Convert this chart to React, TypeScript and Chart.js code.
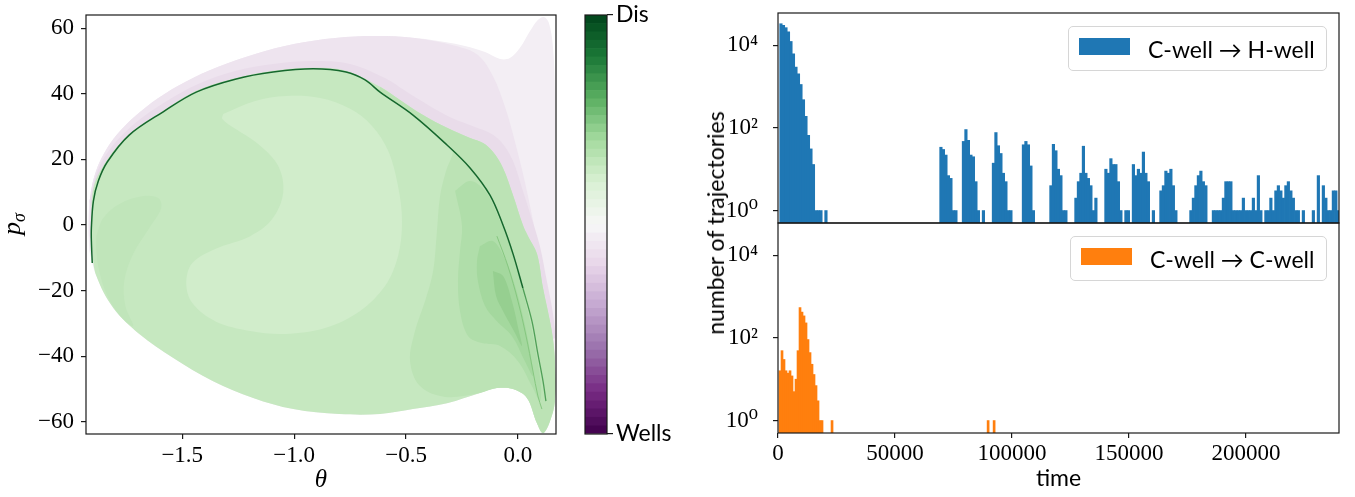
import React, { useEffect, useRef } from 'react';
import { Chart, registerables } from 'chart.js';

Chart.register(...registerables);

type Pt = [number, number];

const SERIF = '"Liberation Serif", "DejaVu Serif", serif';
const SANS = 'Lato, "Liberation Sans", sans-serif';

// ---------------- Left panel: (theta, p_sigma) plane ----------------
const thetaTicks = [-1.5, -1.0, -0.5, 0.0];
const pSigmaTicks = [-60, -40, -20, 0, 20, 40, 60];
const thetaRange: Pt = [-1.93, 0.17];
const pSigmaRange: Pt = [-63.7, 64];

const lavenderOuter: Pt[] = [
  [-1.915, -7.9], [-1.92, 0], [-1.911, 8.8], [-1.888, 15.9], [-1.848, 22.0], [-1.79, 27.7], [-1.71, 33.2],
  [-1.607, 38.7], [-1.487, 43.6], [-1.339, 48.2], [-1.174, 52.1], [-0.996, 55.2], [-0.817, 57.0], [-0.638, 57.6],
  [-0.46, 57.0], [-0.281, 55.2], [-0.147, 52.7], [-0.08, 50.6], [-0.036, 50.9], [0.009, 54.0], [0.054, 59.1],
  [0.089, 62.5], [0.116, 63.4], [0.138, 61.6], [0.156, 54.6], [0.165, 40.9], [0.165, 7.3], [0.165, -23.2],
  [0.165, -41.5], [0.143, -59.8], [0.112, -63.4], [0.085, -60.4], [0.04, -52.7], [-0.022, -50.0], [-0.094, -49.7],
  [-0.17, -51.2], [-0.317, -54.3], [-0.469, -56.1], [-0.616, -57.6], [-0.799, -57.6], [-1.004, -56.1],
  [-1.183, -52.7], [-1.362, -47.6], [-1.54, -40.5], [-1.692, -33.2], [-1.808, -25.3], [-1.884, -15.5],
];
const lavenderMid: Pt[] = [
  [-1.915, -3.4], [-1.911, 8.8], [-1.888, 15.9], [-1.848, 22.0], [-1.79, 27.7], [-1.71, 33.2], [-1.607, 38.7],
  [-1.487, 43.6], [-1.339, 48.2], [-1.174, 52.1], [-0.996, 55.2], [-0.817, 57.0], [-0.638, 57.6], [-0.46, 57.0],
  [-0.281, 54.6], [-0.179, 51.8], [-0.112, 45.4], [-0.058, 36.0], [-0.013, 25.3], [0.031, 13.1], [0.076, -1.8],
  [0.112, -17.1], [0.143, -29.3], [0.156, -36.9], [0.009, -32.3], [-0.973, -7.9], [-1.866, -7.9],
];
const lavenderEdge: Pt[] = [
  [-1.915, 7.3], [-1.875, 17.1], [-1.8125, 24.1], [-1.71, 31.1], [-1.576, 37.5], [-1.429, 43.0], [-1.259, 47.0],
  [-1.094, 49.1], [-0.915, 50.0], [-0.75, 49.1], [-0.594, 44.8], [-0.504, 40.9], [-0.402, 36.6], [-0.295, 32.6],
  [-0.192, 29.9], [-0.125, 28.0], [-0.071, 25.0], [-0.022, 19.5], [0.018, 11.3], [0.058, 2.7], [0.098, -6.4],
  [0.129, -17.1], [0.156, -26.8], [0.165, -34.5], [0.009, -32.3], [-0.973, -7.9], [-1.866, -7.9],
];
const greenBasin: Pt[] = [
  [-1.906, -0.9], [-1.897, 11.3], [-1.839, 19.5], [-1.737, 27.7], [-1.585, 34.8], [-1.4375, 40.9], [-1.259, 44.8],
  [-1.094, 47.0], [-0.915, 47.9], [-0.768, 47.0], [-0.616, 42.1], [-0.527, 38.1], [-0.424, 33.5], [-0.317, 29.6],
  [-0.214, 26.5], [-0.156, 25.0], [-0.112, 22.3], [-0.067, 17.4], [-0.022, 9.1], [0.022, 0], [0.045, -3.4],
  [0.085, -8.8], [0.112, -19.2], [0.143, -29.3], [0.156, -34.5], [0.165, -41.5], [0.165, -53.7], [0.143, -59.8],
  [0.112, -63.4], [0.085, -60.4], [0.04, -52.7], [-0.022, -50.0], [-0.094, -49.7], [-0.17, -51.2], [-0.317, -54.3],
  [-0.469, -56.1], [-0.616, -57.6], [-0.799, -57.6], [-1.004, -56.1], [-1.183, -52.7], [-1.362, -47.6],
  [-1.54, -40.5], [-1.692, -33.2], [-1.808, -25.3], [-1.884, -15.5], [-1.902, -7.9],
];
const greenCore: Pt[] = [
  [-1.317, 33.8], [-1.174, 37.8], [-1.036, 39.3], [-0.884, 38.7], [-0.75, 35.4], [-0.652, 30.2], [-0.58, 22.6],
  [-0.536, 11.9], [-0.518, 1.2], [-0.536, -9.5], [-0.594, -18.6], [-0.705, -26.2], [-0.862, -31.4], [-1.04, -33.2],
  [-1.196, -32.3], [-1.353, -29.3], [-1.455, -23.8], [-1.482, -17.7], [-1.455, -11.6], [-1.353, -7.3],
  [-1.196, -3.4], [-1.098, 1.8], [-1.049, 9.8], [-1.071, 18.0], [-1.161, 24.7], [-1.263, 29.3], [-1.321, 32.3],
];
const greenLeftLobe: Pt[] = [
  [-1.884, -3.4], [-1.853, 2.1], [-1.781, 6.4], [-1.674, 8.8], [-1.607, 8.2], [-1.594, 5.2], [-1.647, -0.9],
  [-1.719, -8.8], [-1.759, -17.1], [-1.754, -24.7], [-1.719, -30.8], [-1.777, -27.7], [-1.835, -21.6],
  [-1.871, -14.0], [-1.884, -7.9],
];
const greenRightBand: Pt[] = [
  [-0.616, 42.1], [-0.527, 38.1], [-0.424, 33.5], [-0.317, 29.6], [-0.214, 26.5], [-0.156, 25.0], [-0.112, 22.3],
  [-0.067, 17.4], [-0.022, 9.1], [0.022, 0], [0.045, -3.4], [0.085, -8.8], [0.112, -19.2], [0.143, -29.3],
  [0.156, -34.5], [0.165, -41.5], [0.165, -53.7], [0.143, -59.8], [0.112, -63.4], [0.085, -60.4], [0.04, -52.7],
  [-0.022, -50.0], [-0.094, -49.7], [-0.17, -51.2], [-0.326, -52.4], [-0.4375, -49.1], [-0.482, -41.5],
  [-0.46, -32.3], [-0.415, -23.2], [-0.379, -14.0], [-0.362, -1.8], [-0.348, 8.8], [-0.321, 16.5], [-0.29, 22.6],
  [-0.317, 24.4], [-0.469, 33.5], [-0.616, 40.5],
];
const greenFold: Pt[] = [
  [-0.281, 10.4], [-0.214, 13.4], [-0.147, 10.4], [-0.089, 2.7], [-0.036, -6.4], [0.009, -17.1], [0.049, -27.7],
  [0.08, -38.4], [0.103, -49.1], [0.098, -53.7], [0.0625, -49.1], [0.0, -41.5], [-0.08, -36.9], [-0.161, -36.0],
  [-0.223, -33.8], [-0.259, -26.2], [-0.268, -17.1], [-0.259, -7.9], [-0.25, -0.3],
];
const greenFoldInner: Pt[] = [
  [-0.17, -6.4], [-0.112, -4.9], [-0.058, -10.4], [-0.013, -18.6], [0.022, -27.7], [0.054, -38.4], [0.067, -46.0],
  [0.031, -41.5], [-0.027, -33.8], [-0.094, -29.3], [-0.147, -24.7], [-0.179, -17.1], [-0.183, -11.0],
];
const greenFoldCore: Pt[] = [
  [-0.112, -14.0], [-0.067, -15.5], [-0.027, -23.2], [0.004, -32.3], [0.018, -36.9], [-0.018, -32.3],
  [-0.067, -26.2], [-0.098, -21.6],
];
const ridgeUpper: Pt[] = [
  [-1.902, -11.6], [-1.906, -4.9], [-1.906, -0.9], [-1.897, 7.3], [-1.875, 13.4], [-1.835, 19.2], [-1.737, 27.4],
  [-1.585, 34.5], [-1.4375, 40.5], [-1.259, 44.5], [-1.094, 46.6], [-0.915, 47.6], [-0.768, 46.6], [-0.683, 44.2],
  [-0.616, 40.5], [-0.469, 33.5], [-0.317, 24.4], [-0.214, 17.4], [-0.125, 9.1], [-0.067, 0], [-0.022, -8.8],
  [0.022, -19.2],
];
const ridgeLower: Pt[] = [[0.022, -19.2], [0.0625, -29.3], [0.089, -39.3], [0.112, -47.6], [0.125, -53.7]];
const ridgeInner: Pt[] = [
  [-0.094, -3.4], [-0.045, -12.5], [0.0, -23.2], [0.036, -33.8], [0.067, -44.5], [0.089, -52.1], [0.107, -56.1],
];

const regionLayers: { pts: Pt[]; color: string }[] = [
  { pts: lavenderOuter, color: '#f3eef4' },
  { pts: lavenderMid, color: '#eee4ef' },
  { pts: lavenderEdge, color: '#e9dcea' },
  { pts: greenBasin, color: '#c6e8c0' },
  { pts: greenCore, color: '#d1edcb' },
  { pts: greenLeftLobe, color: '#c0e5ba' },
  { pts: greenRightBand, color: '#bce3b5' },
  { pts: greenFold, color: '#b0deaa' },
  { pts: greenFoldInner, color: '#a4d89e' },
  { pts: greenFoldCore, color: '#96cf90' },
];
const ridgeLayers: { pts: Pt[]; color: string; width: number }[] = [
  { pts: ridgeUpper, color: '#15672d', width: 1.5 },
  { pts: ridgeLower, color: '#4f9f57', width: 1.3 },
  { pts: ridgeInner, color: '#86c780', width: 1 },
];

// ---------------- Colorbar ----------------
const prgnAnchors = ['#40004b', '#762a83', '#9970ab', '#c2a5cf', '#e7d4e8', '#f7f7f7', '#d9f0d3', '#a6dba0', '#5aae61', '#1b7837', '#00441b'];
const colorbarBandCount = 50;
const colorbarTickLabels = ['Wells', 'Dis'];

// ---------------- Right panels: histograms ----------------
const timeTicks = [0, 50000, 100000, 150000, 200000];
const timeRange: Pt = [0, 239700];
const countTicks = [1, 100, 10000];
const countRange: Pt = [0.5, 60000];

const hBinStart = 730;
const hBinWidth = 1068;
const cToHCounts = [
  33000, 30000, 26500, 21000, 12300, 6200, 2950, 2040, 1120, 480, 190, 66, 31, 13, 1, 1, 1, 0, 1, 0,
  0, 0, 0, 0, 0, 0, 0, 0, 0, 0, 0, 0, 0, 0, 0, 0, 0, 0, 0, 0,
  0, 0, 0, 0, 0, 0, 0, 0, 0, 0, 0, 0, 0, 0, 0, 0, 0, 0, 0, 0,
  0, 0, 0, 0, 34, 30, 22, 7, 6, 1, 1, 0, 0, 47, 91, 50, 22, 20, 5, 1,
  0, 1, 0, 0, 0, 14, 77, 37, 24, 8, 5, 1, 1, 0, 0, 0, 0, 39, 47, 39,
  12, 1, 0, 0, 0, 0, 0, 0, 4, 40, 28, 10, 7, 1, 1, 0, 0, 0, 2, 5,
  8, 36, 8, 6, 4, 1, 2, 0, 0, 0, 10, 8, 18, 13, 13, 5, 1, 0, 1, 1,
  0, 13, 7, 10, 8, 26, 8, 5, 0, 1, 0, 0, 3, 4, 9, 8, 10, 4, 1, 0,
  0, 0, 0, 0, 1, 2, 4, 7, 9, 5, 4, 0, 0, 1, 1, 1, 1, 2, 5, 5,
  5, 1, 1, 1, 1, 2, 1, 1, 1, 2, 1, 7, 1, 0, 1, 1, 2, 1, 3, 4,
  3, 2, 4, 5, 3, 2, 1, 1, 0, 1, 0, 0, 0, 1, 0, 7, 0, 4, 2, 1,
  1, 3, 3, 1,
];

const cBinStart = 430;
const cBinWidth = 855;
const cToCCounts = [
  16, 49, 30, 16, 14, 16, 12, 5, 10, 49, 540, 420, 340, 230, 91, 44, 23, 13, 7, 3,
  1, 1, 0, 0, 0, 0, 1, 0, 0, 0, 0, 0, 0, 0, 0, 0, 0, 0, 0, 0,
  0, 0, 0, 0, 0, 0, 0, 0, 0, 0, 0, 0, 0, 0, 0, 0, 0, 0, 0, 0,
  0, 0, 0, 0, 0, 0, 0, 0, 0, 0, 0, 0, 0, 0, 0, 0, 0, 0, 0, 0,
  0, 0, 0, 0, 0, 0, 0, 0, 0, 0, 0, 0, 0, 0, 0, 0, 0, 0, 0, 0,
  0, 0, 0, 0, 1, 0, 0, 1,
];

const seriesCH = { label: 'C-well \u2192 H-well', color: '#1f77b4' };
const seriesCC = { label: 'C-well \u2192 C-well', color: '#ff7f0e' };

// ---------------- helpers ----------------
function hexToRgb(h: string) {
  const n = parseInt(h.slice(1), 16);
  return [(n >> 16) & 255, (n >> 8) & 255, n & 255];
}
function prgn(t: number) {
  const s = Math.max(0, Math.min(1, t)) * (prgnAnchors.length - 1);
  const i = Math.min(prgnAnchors.length - 2, Math.floor(s));
  const f = s - i;
  const a = hexToRgb(prgnAnchors[i]);
  const b = hexToRgb(prgnAnchors[i + 1]);
  const c = a.map((v, k) => Math.round(v + (b[k] - v) * f));
  return `rgb(${c[0]},${c[1]},${c[2]})`;
}
const colorbarColors = Array.from({ length: colorbarBandCount }, (_, i) => prgn((i + 0.5) / colorbarBandCount));

function toBars(counts: number[], start: number, width: number) {
  const out: { x: number; y: number }[] = [];
  counts.forEach((c, k) => {
    if (c > 0) out.push({ x: start + (k + 0.5) * width, y: c });
  });
  return out;
}
const SUP: Record<number, string> = { 0: '\u2070', 1: '\u00b9', 2: '\u00b2', 3: '\u00b3', 4: '\u2074' };
const minus = (v: number, digits: number) => (v < 0 ? '\u2212' : '') + Math.abs(v).toFixed(digits);

const framePlugin = {
  id: 'frame',
  afterDraw(chart: any) {
    const { ctx, chartArea } = chart;
    const { left, top, right, bottom } = chartArea;
    ctx.save();
    ctx.strokeStyle = '#1a1a1a';
    ctx.lineWidth = 1.2;
    ctx.strokeRect(left, top, right - left, bottom - top);
    ctx.restore();
  },
};

const pSigmaTitlePlugin = {
  id: 'pSigmaTitle',
  afterDraw(chart: any) {
    const ctx = chart.ctx;
    ctx.save();
    ctx.translate(17, 224);
    ctx.rotate(-Math.PI / 2);
    ctx.fillStyle = '#000';
    ctx.textBaseline = 'alphabetic';
    ctx.font = `italic 26px ${SERIF}`;
    const wp = ctx.measureText('p').width;
    ctx.font = `italic 18px ${SERIF}`;
    const ws = ctx.measureText('\u03c3').width;
    const x0 = -(wp + ws) / 2;
    ctx.font = `italic 26px ${SERIF}`;
    ctx.fillText('p', x0, 3);
    ctx.font = `italic 18px ${SERIF}`;
    ctx.fillText('\u03c3', x0 + wp, 8);
    ctx.restore();
  },
};

const noPad = (s: any) => {
  s.paddingTop = 0;
  s.paddingBottom = 0;
  s.paddingLeft = 0;
  s.paddingRight = 0;
};
const fixWidth = (w: number) => (s: any) => { s.width = w; noPad(s); };
const fixHeight = (h: number) => (s: any) => { s.height = h; noPad(s); };

const tickGrid = (len: number) => ({ drawOnChartArea: false, drawTicks: true, tickLength: len, color: '#1a1a1a', lineWidth: 1.2 });
const base = {
  responsive: false,
  animation: false,
  events: [] as string[],
  plugins: { legend: { display: false }, tooltip: { enabled: false } },
};

function makePhaseConfig(): any {
  const fills = regionLayers.map((l, i) => ({
    data: [...l.pts, l.pts[0]].map(([x, y]) => ({ x, y })),
    showLine: true,
    fill: 'shape',
    backgroundColor: l.color,
    borderColor: 'rgba(0,0,0,0)',
    borderWidth: 0,
    pointRadius: 0,
    tension: 0.35,
    order: 200 - i,
  }));
  const lines = ridgeLayers.map((l, i) => ({
    data: l.pts.map(([x, y]) => ({ x, y })),
    showLine: true,
    fill: false,
    borderColor: l.color,
    borderWidth: l.width,
    pointRadius: 0,
    tension: 0.35,
    order: 20 - i,
  }));
  return {
    type: 'scatter',
    data: { datasets: [...fills, ...lines] },
    options: {
      ...base,
      layout: { padding: { top: 15, right: 14, bottom: 0, left: 0 } },
      scales: {
        x: {
          type: 'linear', min: thetaRange[0], max: thetaRange[1],
          afterFit: fixHeight(63),
          afterBuildTicks: (s: any) => { s.ticks = thetaTicks.map((v) => ({ value: v })); },
          ticks: { callback: (v: number) => minus(v, 1), font: { family: SERIF, size: 23 }, color: '#000', padding: 3, maxRotation: 0, autoSkip: false },
          grid: tickGrid(5),
          border: { display: false },
          title: { display: true, text: '\u03b8', font: { family: SERIF, size: 25, style: 'italic' }, color: '#000', padding: { top: 0, bottom: 2 } },
        },
        y: {
          type: 'linear', min: pSigmaRange[0], max: pSigmaRange[1],
          afterFit: fixWidth(86),
          afterBuildTicks: (s: any) => { s.ticks = pSigmaTicks.map((v) => ({ value: v })); },
          ticks: { callback: (v: number) => minus(v, 0), font: { family: SERIF, size: 23 }, color: '#000', padding: 7, autoSkip: false },
          grid: tickGrid(5),
          border: { display: false },
        },
      },
    },
    plugins: [framePlugin, pSigmaTitlePlugin],
  };
}

function makeColorbarConfig(): any {
  return {
    type: 'bar',
    data: {
      labels: [''],
      datasets: colorbarColors.map((c) => ({ data: [1], backgroundColor: c, borderWidth: 0, barPercentage: 1, categoryPercentage: 1, stack: 'cb' })),
    },
    options: {
      ...base,
      layout: { padding: { top: 15, right: 0, bottom: 63, left: 15 } },
      scales: {
        x: { stacked: true, display: false },
        y: {
          stacked: true, position: 'right', min: 0, max: colorbarBandCount,
          afterFit: fixWidth(93),
          afterBuildTicks: (s: any) => { s.ticks = [{ value: 0 }, { value: colorbarBandCount }]; },
          ticks: { callback: (v: number) => (v === 0 ? colorbarTickLabels[0] : colorbarTickLabels[1]), font: { family: SANS, size: 23 }, color: '#000', padding: 3, autoSkip: false },
          grid: tickGrid(6),
          border: { display: false },
        },
      },
    },
    plugins: [framePlugin],
  };
}

function logAxis(): any {
  return {
    type: 'logarithmic', min: countRange[0], max: countRange[1],
    afterFit: fixWidth(78),
    afterBuildTicks: (s: any) => { s.ticks = countTicks.map((v) => ({ value: v })); },
    ticks: { callback: (v: number) => '10' + SUP[Math.round(Math.log10(v))], font: { family: SERIF, size: 23 }, color: '#000', padding: 15, autoSkip: false },
    grid: tickGrid(5),
    border: { display: false },
  };
}

function histDataset(counts: number[], start: number, width: number, color: string) {
  return {
    data: toBars(counts, start, width),
    backgroundColor: color,
    borderWidth: 0,
    barPercentage: 1,
    categoryPercentage: 1,
    grouped: false,
  };
}

function makeTopHistConfig(): any {
  return {
    type: 'bar',
    data: { datasets: [histDataset(cToHCounts, hBinStart, hBinWidth, seriesCH.color)] },
    options: {
      ...base,
      layout: { padding: { top: 13, right: 16, bottom: 17, left: 0 } },
      scales: {
        x: { type: 'linear', min: timeRange[0], max: timeRange[1], offset: false, display: false, grid: { offset: false } },
        y: logAxis(),
      },
    },
    plugins: [framePlugin],
  };
}

function makeBottomHistConfig(): any {
  return {
    type: 'bar',
    data: { datasets: [histDataset(cToCCounts, cBinStart, cBinWidth, seriesCC.color)] },
    options: {
      ...base,
      layout: { padding: { top: 23, right: 16, bottom: 0, left: 0 } },
      scales: {
        x: {
          type: 'linear', min: timeRange[0], max: timeRange[1], offset: false,
          afterFit: fixHeight(64),
          afterBuildTicks: (s: any) => { s.ticks = timeTicks.map((v) => ({ value: v })); },
          ticks: { callback: (v: number) => String(v), font: { family: SERIF, size: 23 }, color: '#000', padding: 2, maxRotation: 0, autoSkip: false },
          grid: { ...tickGrid(5), offset: false },
          border: { display: false },
          title: { display: true, text: 'time', font: { family: SANS, size: 23 }, color: '#000', padding: { top: 0, bottom: 5 } },
        },
        y: logAxis(),
      },
    },
    plugins: [framePlugin],
  };
}

function ChartCanvas({ make, left, top, width, height }: { make: () => any; left: number; top: number; width: number; height: number }) {
  const ref = useRef<HTMLCanvasElement>(null);
  useEffect(() => {
    const chart = new Chart(ref.current as HTMLCanvasElement, make());
    return () => chart.destroy();
  }, []);
  return <canvas ref={ref} width={width} height={height} style={{ position: 'absolute', left, top, width, height }} />;
}

function LegendBox({ left, top, width, label, color }: { left: number; top: number; width: number; label: string; color: string }) {
  return (
    <div
      style={{
        position: 'absolute', left, top, width, height: 45, boxSizing: 'border-box',
        border: '1px solid #d6d6d6', borderRadius: 5, background: 'rgba(255,255,255,0.85)',
      }}
    >
      <div style={{ position: 'absolute', left: 10, top: 11, width: 51, height: 17, background: color }} />
      <div
        style={{
          position: 'absolute', left: 79, top: 0, height: 43, display: 'flex', alignItems: 'center',
          font: `23px ${SANS}`, color: '#000', whiteSpace: 'nowrap',
        }}
      >
        {label}
      </div>
    </div>
  );
}

export default function App() {
  return (
    <div style={{ position: 'fixed', left: 0, top: 0, width: 1355, height: 497, background: '#fff', overflow: 'hidden' }}>
      <ChartCanvas make={makePhaseConfig} left={0} top={0} width={570} height={497} />
      <ChartCanvas make={makeColorbarConfig} left={570} top={0} width={130} height={497} />
      <ChartCanvas make={makeTopHistConfig} left={700} top={0} width={655} height={240} />
      <ChartCanvas make={makeBottomHistConfig} left={700} top={200} width={655} height={297} />
      <div
        style={{
          position: 'absolute', left: 715, top: 223, transform: 'translate(-50%, -50%) rotate(-90deg)',
          font: `23px ${SANS}`, color: '#000', whiteSpace: 'nowrap',
        }}
      >
        number of trajectories
      </div>
      <LegendBox left={1068} top={26} width={259} label={seriesCH.label} color={seriesCH.color} />
      <LegendBox left={1070} top={236} width={257} label={seriesCC.label} color={seriesCC.color} />
    </div>
  );
}
